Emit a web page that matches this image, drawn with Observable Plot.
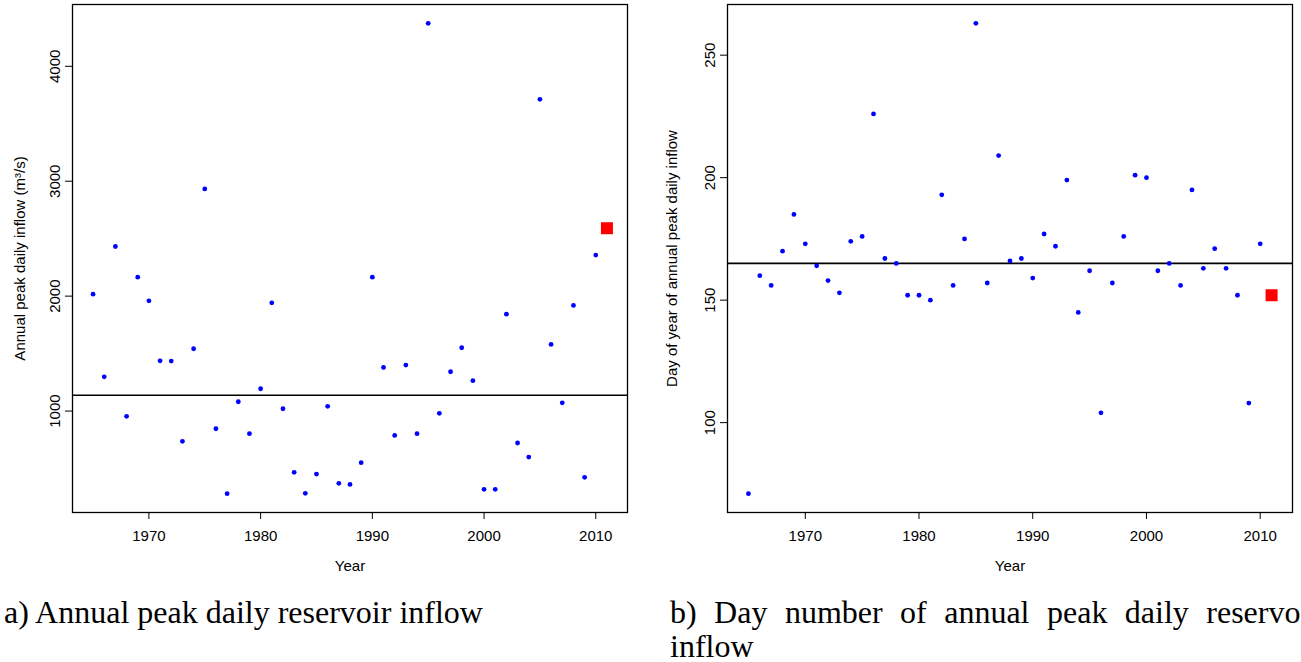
<!DOCTYPE html>
<html><head><meta charset="utf-8">
<script src="https://cdn.jsdelivr.net/npm/d3@7"></script>
<script src="https://cdn.jsdelivr.net/npm/@observablehq/plot@0.6"></script>
<style>
html,body{margin:0;padding:0;background:#fff;overflow:hidden;width:1301px;height:662px;}
#wrap{position:relative;width:1301px;height:662px;overflow:hidden;background:#fff;}
.panel{position:absolute;top:0;}
.cap{position:absolute;font-family:"Liberation Serif","Times New Roman",serif;font-size:32px;line-height:33.5px;color:#000;}
</style></head><body><div id="wrap">
<div id="pa" class="panel" style="left:0;width:650px"></div>
<div id="pb" class="panel" style="left:650px;width:651px"></div>
<div class="cap" style="left:4px;top:596px;white-space:nowrap">a) Annual peak daily reservoir inflow</div>
<div class="cap" style="left:670px;top:596px;width:650px;text-align:justify">b) Day number of annual peak daily reservoir inflow</div>
</div>
<script>
const years = [1965,1966,1967,1968,1969,1970,1971,1972,1973,1974,1975,1976,1977,1978,1979,1980,1981,1982,1983,1984,1985,1986,1987,1988,1989,1990,1991,1992,1993,1994,1995,1996,1997,1998,1999,2000,2001,2002,2003,2004,2005,2006,2007,2008,2009,2010];
const peakInflow = [2017,1298,2432,954,2165,1959,1437,1435,737,1542,2933,846,281,1081,803,1194,1942,1020,467,284,452,1041,371,362,551,2165,1380,788,1400,803,4374,980,1342,1551,1264,319,319,1843,722,600,3713,1580,1072,1919,423,2357];
const peakDay = [71,160,156,170,185,173,164,158,153,174,176,226,167,165,152,152,150,193,156,175,263,157,209,166,167,159,177,172,199,145,162,104,157,176,201,200,162,165,156,195,163,171,163,152,108,173];
const highlightYear = [2011];
const highlightInflow = [2591];
const highlightDay = [152];
const xTicks = [1970,1980,1990,2000,2010];
const inflowTicks = [1000,2000,3000,4000];
const dayTicks = [100,150,200,250];
const inflowLabel = "Annual peak daily inflow (m³/s)";
const dayLabel = "Day of year of annual peak daily inflow";
const xLabel = "Year";

function pad(ext){const r=ext[1]-ext[0];return [ext[0]-0.04*r, ext[1]+0.04*r];}

function panel({width, marginLeft, marginRight, values, hlValues, yTicks, yLabel, labelDx}) {
  const pts = years.map((y,i)=>({year:y, v:values[i]}));
  const hl = highlightYear.map((y,i)=>({year:y, v:hlValues[i]}));
  const med = d3.median(values);
  return Plot.plot({
    width, height: 580, marginLeft, marginRight, marginTop: 4, marginBottom: 68,
    style: {fontFamily: "Liberation Sans, Arial, sans-serif", fontSize: "15px", color: "#000", background: "#fff"},
    x: {domain: pad(d3.extent(years.concat(highlightYear))), ticks: xTicks, tickFormat: d => String(d), tickSize: 7, tickPadding: 11, label: null},
    y: {domain: pad(d3.extent(values)), ticks: yTicks, tickSize: 7, tickFormat: () => "", label: null},
    marks: [
      Plot.frame({stroke: "#000", strokeWidth: 1.3}),
      Plot.ruleY([med], {stroke: "#000", strokeWidth: 1.7}),
      Plot.dot(pts, {x: "year", y: "v", r: 2.4, fill: "#0000ff"}),
      Plot.dot(hl, {x: "year", y: "v", symbol: "square", r: 6.77, fill: "#ff0000"}),
      Plot.text(yTicks, {y: d => d, text: d => String(d), frameAnchor: "left", dx: -13, rotate: -90, textAnchor: "middle", lineAnchor: "bottom", fill: "#000"}),
      Plot.text([yLabel], {frameAnchor: "left", dx: labelDx, rotate: -90, textAnchor: "middle", lineAnchor: "middle", text: d => d, fill: "#000"}),
      Plot.text([xLabel], {frameAnchor: "bottom", dy: 54, textAnchor: "middle", lineAnchor: "middle", text: d => d, fill: "#000"})
    ]
  });
}

document.getElementById("pa").append(panel({width: 650, marginLeft: 72, marginRight: 23, values: peakInflow, hlValues: highlightInflow, yTicks: inflowTicks, yLabel: inflowLabel, labelDx: -52}));
document.getElementById("pb").append(panel({width: 651, marginLeft: 77, marginRight: 9, values: peakDay, hlValues: highlightDay, yTicks: dayTicks, yLabel: dayLabel, labelDx: -55}));
</script>
</body></html>
